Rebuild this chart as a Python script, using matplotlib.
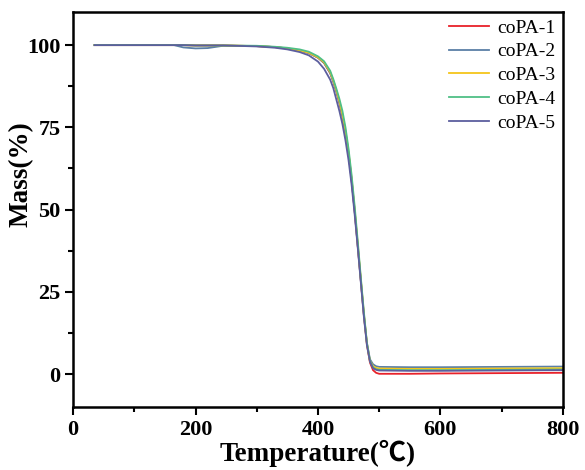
import matplotlib
matplotlib.use("Agg")
import matplotlib.pyplot as plt
from matplotlib.ticker import MultipleLocator

# Temperature points (°C)
temp = [35, 100, 150, 165, 180, 200, 220, 245, 300, 330, 350, 370, 385, 400, 410,
        420, 425, 430, 435, 440, 445, 450, 455, 460, 465, 470, 475, 480, 485, 490, 495, 500,
        550, 600, 700, 800]

copa1 = [100, 100, 100, 100, 100, 99.9, 99.9, 99.9, 99.7, 99.4, 99.0, 98.4, 97.6, 96.2, 94.6,
         91.5, 89.0, 86.0, 82.5, 78.5, 73.5, 67, 59, 49.5, 39, 28.5, 18, 9, 3.5, 1.2, 0.4, 0.1,
         0.1, 0.2, 0.3, 0.4]
copa2 = [100, 100, 100, 100, 99.3, 99.0, 99.1, 99.8, 99.7, 99.4, 99.0, 98.4, 97.6, 96.2, 94.6,
         91.5, 89.0, 86.0, 82.5, 78.5, 73.5, 67, 59, 49.5, 39, 28.5, 18, 9.5, 4.5, 3.0, 2.4, 2.2,
         2.1, 2.1, 2.2, 2.3]
copa3 = [100, 100, 100, 100, 100, 99.9, 99.9, 99.9, 99.7, 99.4, 99.0, 98.4, 97.7, 96.3, 94.8,
         91.8, 89.3, 86.3, 83, 79, 74, 67.5, 59.5, 50, 39.5, 29, 18.5, 9.3, 4, 2.4, 1.9, 1.7,
         1.6, 1.6, 1.7, 1.8]
copa4 = [100, 100, 100, 100, 100, 99.9, 99.9, 99.9, 99.8, 99.5, 99.2, 98.7, 98.0, 96.6, 95.1,
         92.2, 89.7, 86.8, 83.7, 80, 75, 68.5, 60.5, 51, 40.5, 29.5, 19, 9.5, 4, 2.0, 1.5, 1.3,
         1.2, 1.2, 1.3, 1.4]
copa5 = [100, 100, 100, 100, 100, 99.9, 99.9, 99.9, 99.6, 99.2, 98.7, 97.9, 96.9, 95.0, 92.8,
         89.5, 87.0, 83.5, 80, 76, 71, 65, 57.5, 48.5, 38.5, 28, 17.5, 8.8, 3.8, 1.8, 1.3, 1.1,
         1.0, 1.0, 1.1, 1.2]

series = [copa1, copa2, copa3, copa4, copa5]
labels = ["coPA-1", "coPA-2", "coPA-3", "coPA-4", "coPA-5"]
colors = ["#e8212a", "#5a7fa6", "#f5c51a", "#4fbf86", "#5c5e9e"]

serif = ["Liberation Serif", "Noto Sans CJK SC"]
plt.rcParams["font.family"] = serif

fig = plt.figure(figsize=(5.85, 4.70), dpi=100)
ax = fig.add_axes([0.125, 0.134, 0.837, 0.840])

for y, lab, c in zip(series, labels, colors):
    ax.plot(temp, y, color=c, lw=1.3, label=lab)

ax.set_xlim(0, 800)
ax.set_ylim(-10, 110)
ax.xaxis.set_major_locator(MultipleLocator(200))
ax.xaxis.set_minor_locator(MultipleLocator(100))
ax.yaxis.set_major_locator(MultipleLocator(25))
ax.yaxis.set_minor_locator(MultipleLocator(12.5))
ax.tick_params(which="major", direction="out", length=6, width=1.5, labelsize=16, pad=3)
ax.tick_params(which="minor", direction="out", length=3.5, width=1.5)
for lbl in ax.get_xticklabels() + ax.get_yticklabels():
    lbl.set_fontweight("bold")
for s in ax.spines.values():
    s.set_linewidth(1.8)

ax.set_xlabel("Temperature(℃)", fontsize=19.5, fontweight="bold", family=serif, labelpad=0)
ax.set_ylabel("Mass(%)", fontsize=19.5, fontweight="bold")
ax.yaxis.set_label_coords(-0.08, 0.59)

ax.legend(loc="upper right", frameon=False, fontsize=14, handlelength=2.05,
          handletextpad=0.45, labelspacing=0.32, borderaxespad=0.0, borderpad=0.35)

fig.savefig("out.png", dpi=100)
